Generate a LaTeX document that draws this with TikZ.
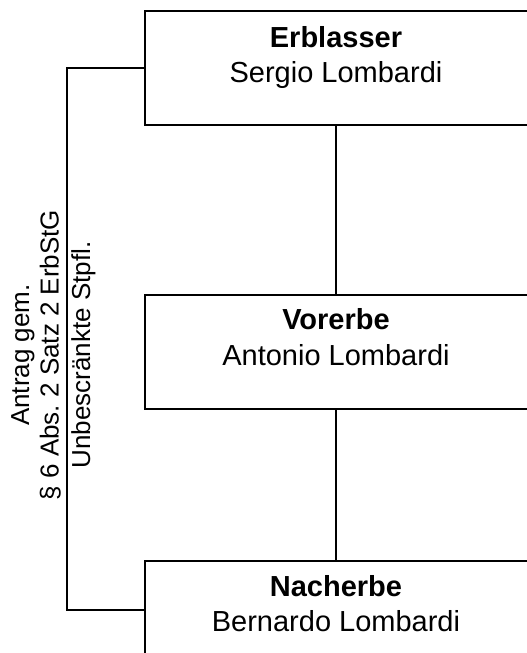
\documentclass[tikz,border=0pt]{standalone}
\usepackage{fontspec}
\setmainfont{Liberation Sans}
\frenchspacing
\begin{document}
\frenchspacing
\begin{tikzpicture}[x=1pt,y=-1pt,
  box/.style={draw, line width=1.5pt, rectangle, inner sep=0pt, anchor=north west},
  conn/.style={line width=1.5pt},
  boxtext/.style={anchor=base, inner sep=0pt, font=\fontsize{29}{33}\selectfont},
  rottext/.style={anchor=base, inner sep=0pt, rotate=90, font=\fontsize{26}{30}\selectfont}]
\useasboundingbox (0,0) rectangle (527,653);
% boxes
\node[box, minimum width=385pt, minimum height=114pt] (erb) at (144,10) {};
\node[box, minimum width=385pt, minimum height=114pt] (vor) at (144,294) {};
\node[box, minimum width=385pt, minimum height=98pt] (nach) at (144,560) {};
% box texts
\node[boxtext] (erbT) at (336,47) {\textbf{Erblasser}};
\node[boxtext] (erbN) at (336,82) {Sergio Lombardi};
\node[boxtext] (vorT) at (336,329.5) {\textbf{Vorerbe}};
\node[boxtext] (vorN) at (336,365) {Antonio Lombardi};
\node[boxtext] (nachT) at (336,596.5) {\textbf{Nacherbe}};
\node[boxtext] (nachN) at (336,631.5) {Bernardo Lombardi};
% connectors
\coordinate (erbB) at (336,124);
\coordinate (vorTop) at (336,294);
\coordinate (vorB) at (336,408);
\coordinate (nachTop) at (336,560);
\draw[conn] (erbB) -- (vorTop);
\draw[conn] (vorB) -- (nachTop);
\coordinate (lineX) at (67,0);
\draw[conn] (erb.west) -| (lineX |- nach.west) -- (nach.west);
% rotated label
\node[rottext] (r1) at (29,355) {Antrag gem.};
\node[rottext] (r2) at (58.5,355) {§ 6 Abs. 2 Satz 2 ErbStG};
\node[rottext] (r3) at (90,355) {Unbescränkte Stpfl.};
\end{tikzpicture}
\end{document}
